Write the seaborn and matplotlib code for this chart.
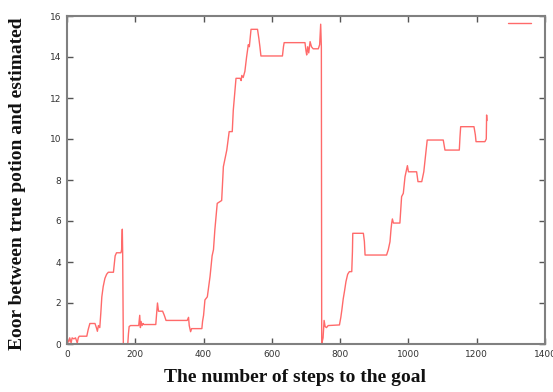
import matplotlib
matplotlib.use("Agg")
import matplotlib.pyplot as plt
import seaborn as sns
import pandas as pd

steps = [0, 5, 8, 12, 15, 20, 25, 30, 33, 36, 58, 62, 67, 82, 86, 89, 92, 96, 99, 102, 106, 111, 116, 121, 136, 139, 141, 145, 158, 160, 162, 163, 165, 178, 180, 182, 186, 210, 213, 215, 217, 220, 223, 225, 260, 263, 265, 268, 280, 285, 290, 352, 356, 358, 362, 365, 395, 397, 400, 404, 411, 415, 419, 425, 429, 433, 440, 453, 458, 468, 475, 484, 487, 492, 495, 507, 510, 512, 516, 521, 526, 531, 534, 539, 558, 562, 565, 568, 631, 634, 636, 697, 700, 702, 705, 708, 712, 716, 721, 736, 740, 743, 745, 746, 750, 753, 756, 760, 765, 798, 802, 805, 809, 813, 817, 822, 827, 834, 836, 837, 868, 871, 873, 936, 941, 946, 949, 951, 953, 956, 975, 980, 985, 990, 997, 1000, 1024, 1028, 1039, 1045, 1052, 1055, 1102, 1107, 1149, 1151, 1153, 1192, 1196, 1198, 1224, 1228, 1229, 1230]
error = [0.25, 0.1, 0.3, 0.05, 0.3, 0.25, 0.3, 0.05, 0.3, 0.38, 0.38, 0.7, 1.0, 1.0, 0.8, 0.62, 0.9, 0.8, 1.5, 2.3, 2.8, 3.2, 3.4, 3.5, 3.5, 4.0, 4.3, 4.45, 4.45, 4.6, 5.6, 4.5, 0.0, 0.0, 0.5, 0.85, 0.9, 0.9, 1.4, 0.8, 1.1, 0.9, 1.0, 0.95, 0.95, 1.6, 2.0, 1.6, 1.6, 1.4, 1.15, 1.15, 1.3, 0.9, 0.6, 0.75, 0.75, 1.1, 1.4, 2.15, 2.3, 2.8, 3.3, 4.3, 4.6, 5.56, 6.86, 7.0, 8.65, 9.46, 10.36, 10.36, 11.4, 12.4, 12.96, 12.96, 12.85, 13.1, 13.0, 13.3, 14.0, 14.6, 14.5, 15.35, 15.35, 14.9, 14.5, 14.05, 14.05, 14.5, 14.7, 14.7, 14.3, 14.1, 14.5, 14.2, 14.75, 14.5, 14.4, 14.4, 14.6, 15.6, 14.5, 0.0, 0.3, 1.15, 0.85, 0.8, 0.9, 0.93, 1.3, 1.66, 2.2, 2.6, 3.04, 3.4, 3.53, 3.53, 4.5, 5.4, 5.4, 5.0, 4.34, 4.34, 4.6, 4.99, 5.6, 5.9, 6.1, 5.9, 5.9, 7.19, 7.35, 8.16, 8.7, 8.4, 8.4, 7.92, 7.92, 8.4, 9.5, 9.95, 9.95, 9.46, 9.46, 10.1, 10.6, 10.6, 10.2, 9.87, 9.87, 10.0, 11.17, 10.9]

x_ticks = [0, 200, 400, 600, 800, 1000, 1200, 1400]
y_ticks = [0, 2, 4, 6, 8, 10, 12, 14, 16]

x_label = "The number of steps to the goal"
y_label = "Eoor between true potion and estimated"

sns.set_theme(style="white")
plt.rcParams["font.family"] = ["DejaVu Sans"]

df = pd.DataFrame({"step": steps, "err": error})

fig = plt.figure(figsize=(5.53, 3.92), dpi=100)
ax = fig.add_axes([67 / 553, 1 - 344 / 392, (545 - 67) / 553, (344 - 16) / 392])

sns.lineplot(data=df, x="step", y="err", ax=ax, sort=False, estimator=None,
             color="#ff5a5a", linewidth=1.0, alpha=0.9, label=" ")

ax.set_xlim(0, 1400)
ax.set_ylim(0, 16)
ax.set_xticks(x_ticks)
ax.set_yticks(y_ticks)
ax.set_xticklabels([str(t) for t in x_ticks])
ax.set_yticklabels([str(t) for t in y_ticks])
ax.tick_params(direction="in", length=4, width=1, color="#555555",
               labelsize=6.5, labelcolor="#333333",
               top=True, right=True, bottom=True, left=True, pad=4)

for s in ax.spines.values():
    s.set_color("#808080")
    s.set_linewidth(1.5)

ax.set_xlabel(x_label, family=["Liberation Serif"], fontweight="bold",
              fontsize=14, color="#111111")
ax.set_ylabel(y_label, family=["Liberation Serif"], fontweight="bold",
              fontsize=14, color="#111111")
ax.xaxis.set_label_coords((295 - 67) / 478, -(378 - 344) / 328, transform=ax.transAxes)
ax.xaxis.label.set_va("center")
ax.yaxis.set_label_coords(-(67 - 18) / 478, 0.49, transform=ax.transAxes)
ax.yaxis.label.set_va("center")

leg = ax.legend(loc="upper right", frameon=False, handlelength=1.8,
                fontsize=9, bbox_to_anchor=(1.01, 1.01), borderaxespad=0.0)

fig.savefig("out.png", dpi=100, facecolor="white")
